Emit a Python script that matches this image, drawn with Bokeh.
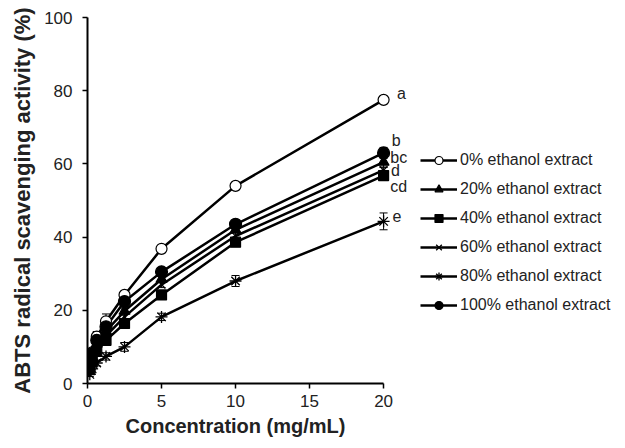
from bokeh.plotting import figure
from bokeh.models import Range1d, Legend, LegendItem, Label, Whisker, ColumnDataSource, FixedTicker, TeeHead, Title
from bokeh.embed import file_html
from bokeh.resources import INLINE

# ---- data ----
conc = [0.156, 0.3125, 0.625, 1.25, 2.5, 5, 10, 20]
e0 = [5.5, 8.5, 12.8, 17.0, 24.2, 36.8, 54.0, 77.5]
e20 = [4.6, 7.2, 10.8, 14.3, 19.8, 28.5, 42.0, 60.5]
e40 = [3.8, 6.0, 8.8, 11.8, 16.4, 24.2, 38.6, 56.8]
e60 = [4.2, 6.6, 9.8, 13.0, 18.2, 27.0, 40.3, 58.3]
e80 = [2.5, 4.0, 5.6, 7.4, 10.0, 18.2, 28.0, 44.3]
e100 = [5.2, 8.2, 11.8, 15.5, 22.4, 30.5, 43.5, 63.0]
sd0 = [0.6, 0.8, 1.4, 2.0, 0.8, 0.8, 0.8, 0.8]
sd20 = [0.5, 0.6, 0.8, 0.8, 0.8, 0.8, 0.8, 1.4]
sd40 = [0.5, 0.6, 0.8, 0.8, 0.8, 0.8, 0.8, 0.8]
sd60 = [0.5, 0.6, 0.8, 0.8, 0.8, 0.8, 0.8, 0.8]
sd80 = [0.6, 0.6, 0.8, 1.0, 1.2, 1.0, 1.5, 2.3]
sd100 = [0.6, 0.8, 1.2, 1.0, 0.8, 0.8, 0.8, 1.5]
series_names = ["0% ethanol extract", "20% ethanol extract", "40% ethanol extract",
                "60% ethanol extract", "80% ethanol extract", "100% ethanol extract"]
sig_letters = ["a", "b", "bc", "d", "cd", "e"]
sig_y = [79.1, 66.4, 61.8, 58.2, 53.8, 45.8]
sig_x = [20.9, 20.55, 20.45, 20.5, 20.45, 20.6]
x_ticks = [0, 5, 10, 15, 20]
y_ticks = [0, 20, 40, 60, 80, 100]

FONT = "Liberation Sans"

p = figure(width=617, height=440, output_backend="svg", toolbar_location=None,
           x_range=Range1d(0, 35.8), y_range=Range1d(0, 100),
           min_border_left=87, min_border_right=0, min_border_top=17, min_border_bottom=57)
p.outline_line_color = None
p.grid.grid_line_color = None
p.background_fill_color = "white"

for ax in (p.xaxis[0], p.yaxis[0]):
    ax.axis_line_width = 2
    ax.axis_line_color = "black"
    ax.major_tick_line_width = 1.5
    ax.major_tick_out = 5
    ax.major_tick_in = 0
    ax.minor_tick_line_color = None
    ax.major_label_text_font = FONT
    ax.major_label_text_font_size = "17px"
    ax.major_label_text_color = "#222222"
    ax.axis_label_text_font = FONT
    ax.axis_label_text_font_style = "bold"
    ax.axis_label_text_color = "#222222"

p.xaxis.bounds = (0, 20)
p.xaxis.ticker = FixedTicker(ticks=x_ticks)
p.yaxis.ticker = FixedTicker(ticks=y_ticks)
p.yaxis.axis_label = "ABTS radical scavenging activity (%)"
p.yaxis.axis_label_text_font_size = "22px"
p.xaxis.major_label_standoff = 6
p.yaxis.major_label_standoff = 10
p.yaxis.axis_label_standoff = 6

# x-axis title, centred under the 0-20 span of the axis
xtitle = Title(text="Concentration (mg/mL)", align="left", offset=38, standoff=6,
               text_font=FONT, text_font_size="20px", text_font_style="bold",
               text_color="#222222")
p.add_layout(xtitle, "below")

vals = [e0, e20, e40, e60, e80, e100]
sds = [sd0, sd20, sd40, sd60, sd80, sd100]
markers = ["circle", "triangle", "square", "x", "asterisk", "circle"]
fills = ["white", "black", "black", "black", "black", "black"]
sizes = [11, 11, 10, 11, 12, 12]

items = []
line_rs = []
for v in vals:
    line_rs.append(p.line(conc, v, line_color="black", line_width=2.5))

for i, (v, sd) in enumerate(zip(vals, sds)):
    src = ColumnDataSource(dict(x=conc, y=v,
                                lo=[a - b for a, b in zip(v, sd)],
                                hi=[a + b for a, b in zip(v, sd)]))
    w = Whisker(source=src, base="x", upper="hi", lower="lo", line_color="black", line_width=1,
                upper_head=TeeHead(size=8, line_width=1, line_color="black"),
                lower_head=TeeHead(size=8, line_width=1, line_color="black"))
    p.add_layout(w)

for i, v in enumerate(vals):
    sr = p.scatter(conc, v, marker=markers[i], size=sizes[i], fill_color=fills[i],
                   line_color="black", line_width=1.3 if markers[i] in ("x", "asterisk") else 1.2)
    items.append(LegendItem(label=series_names[i], renderers=[line_rs[i], sr]))

legend = Legend(items=items, location=(333, 68), padding=0, margin=0,
                border_line_color=None, background_fill_alpha=0,
                glyph_width=37, glyph_height=20, label_height=20, spacing=9,
                label_standoff=3, label_text_font=FONT, label_text_font_size="16px",
                label_text_color="#222222")
p.add_layout(legend, "center")

for t, xx, yy in zip(sig_letters, sig_x, sig_y):
    p.add_layout(Label(x=xx, y=yy, text=t, text_font=FONT, text_font_size="16px",
                       text_color="#222222", text_baseline="middle", text_align="left"))

open("out.html", "w").write(file_html(p, INLINE))
